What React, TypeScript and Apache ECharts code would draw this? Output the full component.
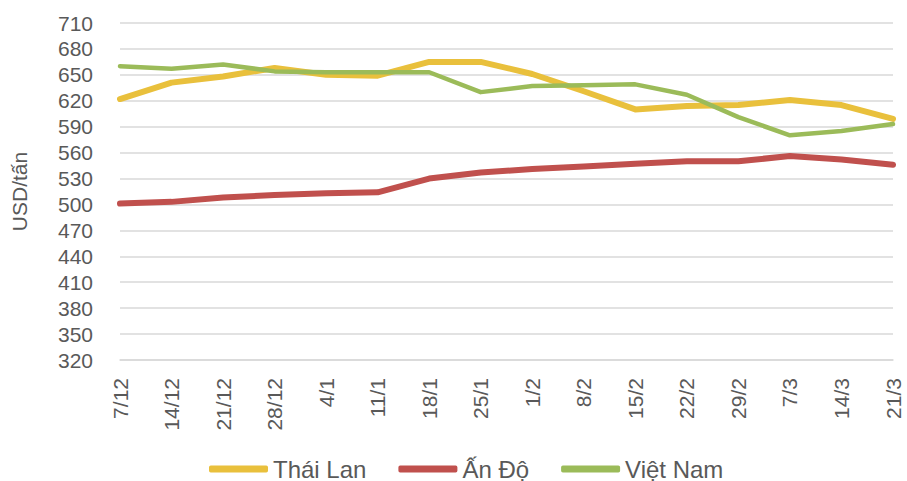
import React, { useEffect, useRef } from "react";
import * as echarts from "echarts";

const categories = ["7/12", "14/12", "21/12", "28/12", "4/1", "11/1", "18/1", "25/1", "1/2", "8/2", "15/2", "22/2", "29/2", "7/3", "14/3", "21/3"];
const thaiLan = [622, 641, 648, 658, 650, 649, 665, 665, 651, 631, 610, 614, 615, 621, 615, 599];
const anDo = [501, 503, 508, 511, 513, 514, 530, 537, 541, 544, 547, 550, 550, 556, 552, 546];
const vietNam = [660, 657, 662, 654, 653, 653, 653, 630, 637, 638, 639, 627, 601, 580, 585, 593];
const seriesNames = ["Thái Lan", "Ấn Độ", "Việt Nam"];
const colors = ["#E9C03C", "#C0504D", "#9BBB59"];
const widths = [6, 6, 4.5];

export default function App() {
  const ref = useRef<HTMLDivElement>(null);
  useEffect(() => {
    if (!ref.current) return;
    const chart = echarts.init(ref.current, null, { renderer: "svg" });
    const data = [thaiLan, anDo, vietNam];
    const font = "'Liberation Sans', Arial, sans-serif";
    chart.setOption({
      animation: false,
      textStyle: { fontFamily: font },
      grid: { left: 120, right: 14, top: 23, bottom: 121, containLabel: false },
      legend: {
        left: 204,
        top: 451,
        icon: "roundRect",
        itemWidth: 59,
        itemHeight: 7,
        itemGap: 32,
        textStyle: { color: "#595959", fontSize: 24, lineHeight: 26, fontFamily: font },
        data: seriesNames,
      },
      xAxis: {
        type: "category",
        data: categories,
        boundaryGap: false,
        axisLine: { show: true, lineStyle: { color: "#D9D9D9", width: 1.5 } },
        axisTick: { show: false },
        axisLabel: { rotate: 90, color: "#595959", fontSize: 21, margin: 18, fontFamily: font, interval: 0 },
      },
      yAxis: {
        type: "value",
        min: 320,
        max: 710,
        interval: 30,
        name: "USD/tấn",
        nameLocation: "middle",
        nameGap: 90,
        nameTextStyle: { color: "#595959", fontSize: 21, fontFamily: font },
        axisLine: { show: false },
        axisTick: { show: false },
        axisLabel: { color: "#595959", fontSize: 21, margin: 27, fontFamily: font },
        splitLine: { lineStyle: { color: "#D9D9D9", width: 1.5 } },
      },
      series: seriesNames.map((name, i) => ({
        name,
        type: "line",
        data: data[i],
        symbol: "none",
        lineStyle: { color: colors[i], width: widths[i], cap: "round", join: "round" },
        itemStyle: { color: colors[i] },
        z: 2 + i,
      })),
    });
    return () => chart.dispose();
  }, []);
  return <div ref={ref} style={{ width: 907, height: 481, position: "absolute", left: 0, top: 0 }} />;
}
